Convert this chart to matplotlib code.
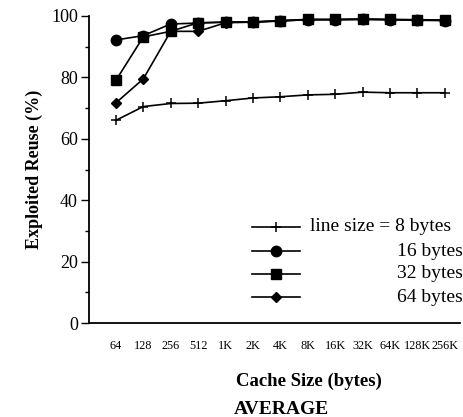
import matplotlib.pyplot as plt
from matplotlib.lines import Line2D
from matplotlib.ticker import MultipleLocator

plt.rcParams['font.family'] = ['Liberation Serif', 'DejaVu Serif']

# data
cache_sizes = ["64", "128", "256", "512", "1K", "2K", "4K", "8K", "16K", "32K", "64K", "128K", "256K"]
reuse_8 = [66.0, 70.5, 71.5, 71.6, 72.4, 73.3, 73.7, 74.3, 74.5, 75.2, 75.0, 75.0, 75.0]
reuse_16 = [92.2, 93.6, 97.4, 97.7, 98.0, 98.0, 98.4, 98.8, 98.8, 98.9, 98.8, 98.6, 98.5]
reuse_32 = [79.0, 93.2, 95.0, 97.8, 98.0, 98.1, 98.5, 98.9, 98.9, 99.0, 98.9, 98.8, 98.7]
reuse_64 = [71.7, 79.5, 95.0, 95.0, 97.8, 98.0, 98.4, 98.8, 98.8, 98.9, 98.8, 98.7, 98.6]
labels = ["line size = 8 bytes", "16 bytes", "32 bytes", "64 bytes"]

fig = plt.figure(figsize=(4.64, 4.17), dpi=100)
ax = fig.add_axes([89 / 464, 1 - 323 / 417, 371 / 464, 307 / 417])

x = list(range(len(cache_sizes)))
styles = [
    dict(marker="+", ms=7.5, mew=1.1),
    dict(marker="o", ms=7.5),
    dict(marker="s", ms=7.5),
    dict(marker="D", ms=5.5),
]
series = [reuse_8, reuse_16, reuse_32, reuse_64]
for vals, st in zip(series, styles):
    ax.plot(x, vals, color="black", lw=1.2, clip_on=False, **st)

ax.set_xlim(-0.98, 12.55)
ax.set_ylim(0, 100)
ax.set_xticks(x)
ax.set_xticklabels(cache_sizes, fontsize=8.8)
ax.tick_params(axis="x", length=0, pad=12)
ax.yaxis.set_major_locator(MultipleLocator(20))
ax.yaxis.set_minor_locator(MultipleLocator(10))
ax.tick_params(axis="y", which="major", length=6, width=1, labelsize=13, pad=2)
ax.tick_params(axis="y", which="minor", length=3, width=1)
ax.spines["top"].set_visible(False)
ax.spines["right"].set_visible(False)
ax.spines["left"].set_linewidth(1.3)
ax.spines["bottom"].set_linewidth(1.3)

ax.set_ylabel("Exploited Reuse (%)", fontsize=13, fontweight="bold", labelpad=6)
fig.text(309 / 464, 1 - 381 / 417, "Cache Size (bytes)", fontsize=13.5, fontweight="bold",
         ha="center", va="center")
fig.text(281 / 464, 1 - 410 / 417, "AVERAGE", fontsize=14, fontweight="bold",
         ha="center", va="center")

# legend drawn by hand: keys on the left, labels right-aligned
rows = [227, 251, 274, 297]
for i, (st, lab) in enumerate(zip(styles, labels)):
    yy = 1 - rows[i] / 417
    fig.add_artist(Line2D([252 / 464, 300 / 464], [yy, yy], color="black", lw=1.2,
                          transform=fig.transFigure))
    fig.add_artist(Line2D([276 / 464], [yy], color="black", ls="none",
                          transform=fig.transFigure, **st))
    if i == 0:
        fig.text(310 / 464, yy, lab, fontsize=14, ha="left", va="center")
    else:
        fig.text(463 / 464, yy, lab, fontsize=14, ha="right", va="center")

fig.savefig("out.png", dpi=100)
